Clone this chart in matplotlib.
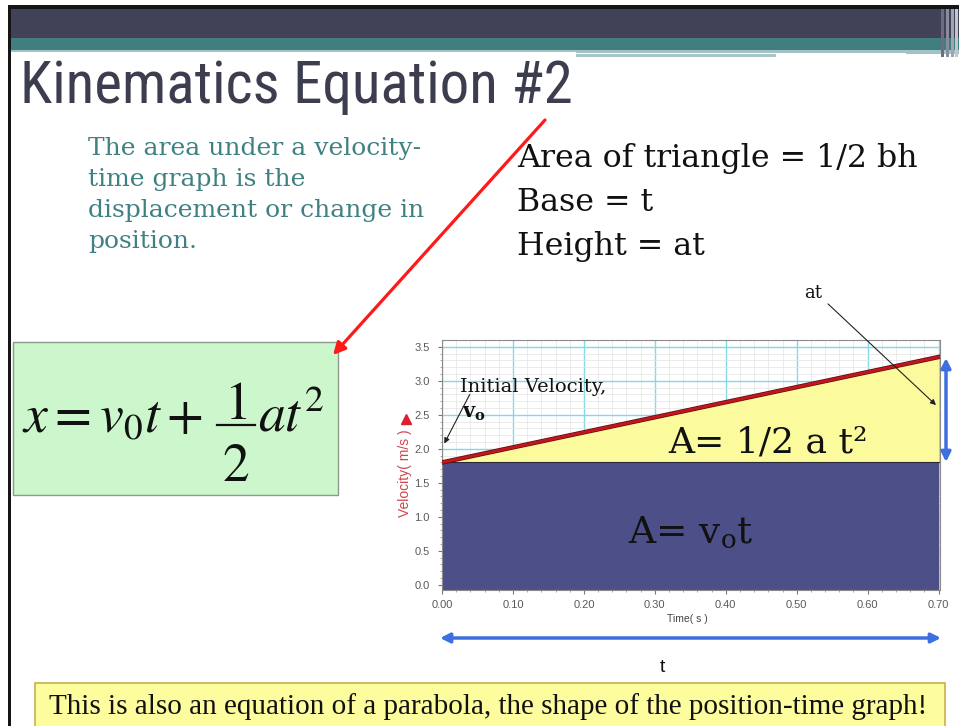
import numpy as np
import matplotlib.pyplot as plt
from matplotlib.patches import Rectangle

W, H = 959, 726

# velocity-time data (constant acceleration)
time_s = [0.00, 0.70]
velocity = [1.80, 3.35]
v_initial = 1.80
x_ticks = [0.00, 0.10, 0.20, 0.30, 0.40, 0.50, 0.60, 0.70]
y_ticks = [0.0, 0.5, 1.0, 1.5, 2.0, 2.5, 3.0, 3.5]

body_lines = ["The area under a velocity-", "time graph is the",
              "displacement or change in", "position."]
tri_lines = ["Area of triangle = 1/2 bh", "Base = t", "Height = at"]

SERIF = "DejaVu Serif"
SANS = "Liberation Sans"

fig = plt.figure(figsize=(W / 100, H / 100), dpi=100)

# slide background, pixel units
bg = fig.add_axes([0, 0, 1, 1], zorder=0)
bg.set_xlim(0, W)
bg.set_ylim(H, 0)
bg.axis("off")

# header bars
bg.add_patch(Rectangle((8, 5), W, 4, fc="#151515", ec="none"))
bg.add_patch(Rectangle((8, 5), 3, H, fc="#151515", ec="none"))
bg.add_patch(Rectangle((11, 9), W, 29, fc="#414257", ec="none"))
bg.add_patch(Rectangle((11, 38), W, 12, fc="#407e7f", ec="none"))
bg.add_patch(Rectangle((11, 50), W, 4, fc="#a3c2c3", ec="none"))
bg.add_patch(Rectangle((11, 52), 565, 6, fc="white", ec="none"))
bg.add_patch(Rectangle((576, 54), 200, 3, fc="#a9c6c7", ec="none"))
bg.add_patch(Rectangle((576, 52.5), 330, 1.5, fc="white", ec="none"))
for x0, c in [(941, "#6c6d80"), (946, "#8a8b9c"), (951, "#a3a4b1"), (955, "#c4c5cd")]:
    bg.add_patch(Rectangle((x0, 9), 2.5, 48, fc=c, ec="none"))

bg.text(20, 103, "Kinematics Equation #2", fontsize=42.5, color="#3c3e50",
        family=["Roboto Condensed", "Roboto"], va="baseline")

for i, line in enumerate(body_lines):
    bg.text(88, 155 + 31 * i, line, fontsize=18, color="#3f8183",
            family=SERIF, va="baseline")

for i, line in enumerate(tri_lines):
    bg.text(517, 167 + 44 * i, line, fontsize=22.8, color="#111111",
            family=SERIF, va="baseline")

# equation box: x = v0 t + (1/2) a t^2
bg.add_patch(Rectangle((13, 342), 325, 153, fc="#ccf6cc", ec="#8c9a8c", lw=1))
eq_kw = dict(fontsize=38.5, math_fontfamily="stix", color="#111111")
bg.text(22, 432, r"$x = v_0t +$", va="baseline", **eq_kw)
bg.text(236, 419, r"$1$", ha="center", va="baseline", **eq_kw)
bg.plot([217, 255], [425, 425], color="#111111", lw=1.6)
bg.text(236, 481, r"$2$", ha="center", va="baseline", **eq_kw)
bg.text(258, 432, r"$at^2$", va="baseline", **eq_kw)

# bottom note
bg.add_patch(Rectangle((35, 683), 910, 60, fc="#fdfd9e", ec="#c7b04c", lw=1.2))
bg.text(488, 707, "This is also an equation of a parabola, the shape of the position-time graph!",
        fontsize=21, family="Liberation Serif", ha="center", va="center", color="#111111")

# velocity-time graph
ax = fig.add_axes([442 / W, 1 - 590 / H, (940 - 442) / W, (590 - 340) / H], zorder=1)
ax.set_xlim(0, 0.702)
ax.set_ylim(-0.075, 3.6)
y_bottom = ax.get_ylim()[0]
ax.fill_between(time_s, y_bottom, v_initial, color="#4d4f88", lw=0, zorder=2)
ax.fill_between(time_s, v_initial, velocity, color="#fbfa9c", lw=0, zorder=2)
ax.plot(time_s, [v_initial, v_initial], color="#2a2a3a", lw=0.8, zorder=3)
ax.plot(time_s, velocity, color="#5a0a0a", lw=3.2, zorder=4)
ax.plot(time_s, velocity, color="#c0161c", lw=2.2, zorder=5)

ax.set_xticks(x_ticks)
ax.set_xticklabels([f"{v:.2f}" for v in x_ticks])
ax.set_yticks(y_ticks)
ax.set_yticklabels([f"{v:.1f}" for v in y_ticks])
ax.set_xticks(np.arange(0, 0.7001, 0.02), minor=True)
ax.set_yticks(np.arange(0, 3.6, 0.1), minor=True)
ax.grid(which="minor", color="#e3e3e3", lw=0.5, zorder=0)
ax.grid(which="major", color="#7fdbe6", lw=1.0, zorder=1)
ax.set_axisbelow(True)
ax.tick_params(which="major", direction="out", length=3, color="#777777",
               labelsize=8, labelcolor="#5a5a5a", pad=4)
ax.tick_params(axis="y", which="major", pad=6)
ax.tick_params(which="minor", direction="out", length=1.5, color="#999999")
for lbl in ax.get_xticklabels() + ax.get_yticklabels():
    lbl.set_family(SANS)
for s in ax.spines.values():
    s.set_color("#8a8a8a")
    s.set_linewidth(0.8)
ax.set_xlabel("Time( s )", fontsize=7.5, color="#444444", family=SANS)
ax.xaxis.set_label_coords(0.492, -0.096)
ax.set_ylabel("Velocity( m/s )", fontsize=10, color="#d0454f", family=SANS)
ax.yaxis.set_label_coords(-0.060, 0.468)

# annotations over the graph
fg = fig.add_axes([0, 0, 1, 1], zorder=2)
fg.set_xlim(0, W)
fg.set_ylim(H, 0)
fg.axis("off")
fg.patch.set_alpha(0)

fg.plot(406, 419, marker="^", color="#dd1f2f", ms=7)

fg.text(460, 392, "Initial Velocity,", fontsize=14, family=SERIF,
        color="#111111", va="baseline")
fg.text(462, 418, r"$\mathbf{v_o}$", fontsize=15, math_fontfamily="dejavuserif",
        color="#111111", va="baseline")
fg.annotate("", xy=(443, 446), xytext=(471, 392),
            arrowprops=dict(arrowstyle="-|>", color="#222222", lw=0.8, mutation_scale=8))

fg.text(668, 452, "A= 1/2 a t\u00b2", fontsize=26, family=SERIF,
        color="#111111", va="baseline")
fg.text(628, 543, r"A= v$_\mathrm{o}$t", fontsize=27, family=SERIF,
        math_fontfamily="dejavuserif", color="#111111", va="baseline")

fg.text(813, 293, "at", fontsize=13, family=SERIF, color="#111111",
        ha="center", va="center")
fg.annotate("", xy=(938, 407), xytext=(826, 302),
            arrowprops=dict(arrowstyle="-|>", color="#222222", lw=0.8, mutation_scale=8))

blue = "#3d6fe0"
fg.annotate("", xy=(946, 358), xytext=(946, 462),
            arrowprops=dict(arrowstyle="<|-|>", color=blue, lw=2.5, mutation_scale=14,
                            shrinkA=0, shrinkB=0))
fg.annotate("", xy=(941, 638), xytext=(440, 638),
            arrowprops=dict(arrowstyle="<|-|>", color=blue, lw=2.5, mutation_scale=14,
                            shrinkA=0, shrinkB=0))
fg.text(662, 667, "t", fontsize=14, family=SANS, ha="center", va="center", color="#111111")

# red pointer from the graph text to the equation
fg.annotate("", xy=(333, 355), xytext=(545, 120),
            arrowprops=dict(arrowstyle="-|>", color="#ff1a1a", lw=2.3, mutation_scale=18,
                            shrinkA=0, shrinkB=0))

fig.savefig("out.png", dpi=100)
